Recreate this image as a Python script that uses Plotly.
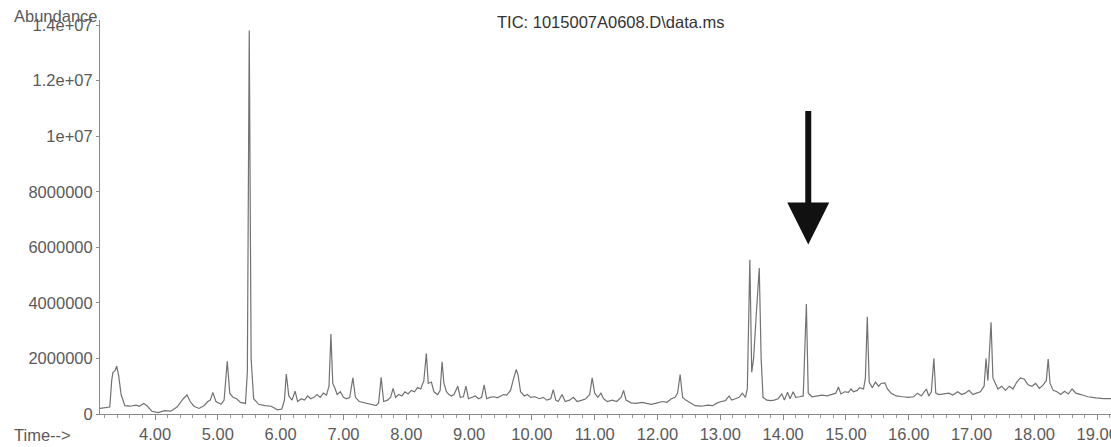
import plotly.graph_objects as go

# ---- data (retention time in minutes, abundance in millions of counts) ----
time_a = [3.12, 3.20, 3.28, 3.31, 3.33, 3.36, 3.39, 3.42, 3.46, 3.52, 3.60, 3.70, 3.75, 3.82, 3.87,
          3.95, 4.05, 4.15, 4.25, 4.35, 4.45, 4.51, 4.56, 4.62, 4.70, 4.78, 4.84, 4.88, 4.92, 4.97,
          5.05, 5.10, 5.15, 5.19, 5.24, 5.30, 5.36, 5.44, 5.47, 5.50, 5.53, 5.57, 5.65, 5.75, 5.85,
          5.95, 6.02, 6.06, 6.09, 6.13, 6.18, 6.23, 6.27, 6.33, 6.38, 6.43, 6.48, 6.53, 6.58, 6.63,
          6.68, 6.73, 6.77, 6.80, 6.83, 6.86, 6.90, 6.95, 7.00]
abund_a = [0.20, 0.22, 0.25, 1.20, 1.50, 1.55, 1.72, 1.40, 0.70, 0.30, 0.28, 0.32, 0.28, 0.38, 0.30,
           0.10, 0.05, 0.12, 0.10, 0.25, 0.55, 0.68, 0.45, 0.28, 0.20, 0.30, 0.45, 0.50, 0.78, 0.45,
           0.35, 0.50, 1.90, 0.75, 0.60, 0.55, 0.42, 0.38, 1.50, 13.80, 2.00, 0.55, 0.35, 0.30, 0.28,
           0.15, 0.18, 0.50, 1.44, 0.65, 0.50, 0.82, 0.45, 0.55, 0.50, 0.65, 0.55, 0.60, 0.70, 0.60,
           0.75, 0.68, 1.00, 2.88, 1.10, 0.95, 0.70, 0.80, 0.60]

time_b = [7.05, 7.10, 7.15, 7.19, 7.25, 7.35, 7.45, 7.52, 7.56, 7.60, 7.64, 7.70, 7.75, 7.79, 7.83,
          7.88, 7.93, 7.98, 8.03, 8.08, 8.13, 8.18, 8.23, 8.28, 8.32, 8.35, 8.40, 8.44, 8.50, 8.54,
          8.57, 8.60, 8.64, 8.68, 8.72, 8.76, 8.82, 8.86, 8.91, 8.95, 8.99, 9.05, 9.10, 9.15, 9.20,
          9.24, 9.28, 9.33, 9.40, 9.45, 9.50, 9.55, 9.60, 9.66, 9.70, 9.75, 9.78, 9.82, 9.88, 9.93,
          9.98, 10.05, 10.12, 10.18, 10.24, 10.30, 10.34, 10.38]
abund_b = [0.55, 0.60, 1.30, 0.60, 0.45, 0.40, 0.35, 0.30, 0.40, 1.32, 0.45, 0.50, 0.60, 0.92, 0.60,
           0.70, 0.65, 0.80, 0.72, 0.85, 0.80, 0.95, 0.90, 1.20, 2.18, 1.10, 1.15, 0.80, 0.70, 0.85,
           1.88, 1.10, 0.80, 0.70, 0.65, 0.70, 1.00, 0.60, 0.62, 1.00, 0.55, 0.60, 0.65, 0.55, 0.60,
           1.05, 0.55, 0.60, 0.62, 0.58, 0.65, 0.70, 0.68, 0.85, 1.20, 1.60, 1.40, 0.80, 0.65, 0.70,
           0.60, 0.62, 0.55, 0.60, 0.50, 0.55, 0.88, 0.50]

time_c = [10.42, 10.48, 10.53, 10.60, 10.66, 10.72, 10.80, 10.86, 10.92, 10.96, 11.00, 11.05, 11.10,
          11.14, 11.20, 11.28, 11.35, 11.42, 11.46, 11.50, 11.58, 11.66, 11.75, 11.82, 11.90, 12.00,
          12.08, 12.15, 12.22, 12.28, 12.32, 12.36, 12.40, 12.45, 12.52, 12.60, 12.70, 12.80, 12.88,
          12.95, 13.02, 13.08, 13.14, 13.18, 13.24, 13.30, 13.35, 13.40]
abund_c = [0.45, 0.70, 0.45, 0.50, 0.60, 0.45, 0.50, 0.55, 0.70, 1.30, 0.75, 0.60, 0.75,
           0.55, 0.45, 0.50, 0.45, 0.60, 0.85, 0.50, 0.40, 0.38, 0.42, 0.38, 0.35, 0.40,
           0.45, 0.42, 0.55, 0.60, 0.75, 1.42, 0.60, 0.50, 0.40, 0.30, 0.28, 0.32, 0.30,
           0.40, 0.45, 0.48, 0.65, 0.50, 0.55, 0.60, 0.75, 0.60]

time_d = [13.43, 13.47, 13.50, 13.53, 13.57, 13.62, 13.65, 13.68, 13.74, 13.80, 13.86, 13.92, 13.98,
          14.02, 14.07, 14.11, 14.16, 14.20, 14.26, 14.32, 14.37, 14.40, 14.46, 14.54, 14.62, 14.70,
          14.78, 14.84, 14.88, 14.92, 14.98, 15.04, 15.08, 15.12, 15.18, 15.22, 15.28, 15.31, 15.34,
          15.37, 15.42, 15.47, 15.52, 15.56, 15.62, 15.66, 15.72, 15.80, 15.90, 16.00]
abund_d = [0.90, 5.55, 1.50, 2.00, 3.50, 5.25, 2.00, 0.60, 0.50, 0.48, 0.50, 0.55, 0.72,
           0.50, 0.78, 0.55, 0.80, 0.60, 0.62, 0.65, 3.96, 0.75, 0.62, 0.65, 0.68, 0.65,
           0.70, 0.75, 0.97, 0.72, 0.80, 0.78, 0.90, 0.80, 0.85, 0.95, 0.90, 1.30, 3.50,
           1.15, 0.95, 1.15, 1.00, 1.10, 1.12, 0.90, 0.75, 0.65, 0.62, 0.60]

time_e = [16.08, 16.14, 16.20, 16.28, 16.32, 16.36, 16.40, 16.43, 16.48, 16.56, 16.64, 16.70, 16.78,
          16.84, 16.90, 16.96, 17.02, 17.08, 17.14, 17.20, 17.23, 17.26, 17.31, 17.34, 17.38, 17.42,
          17.48, 17.54, 17.60, 17.66, 17.72, 17.78, 17.84, 17.90, 17.96, 18.02, 18.08, 18.14, 18.19,
          18.22, 18.25, 18.30, 18.36, 18.42, 18.48, 18.54, 18.60, 18.66, 18.74, 18.85, 18.98, 19.10,
          19.25]
abund_e = [0.62, 0.75, 0.65, 0.90, 0.65, 0.80, 2.00, 0.75, 0.70, 0.72, 0.75, 0.68, 0.80,
           0.70, 0.75, 0.85, 0.70, 0.75, 0.80, 1.00, 2.00, 1.20, 3.30, 1.30, 1.10, 0.90,
           1.00, 0.85, 1.00, 0.90, 1.15, 1.30, 1.25, 1.05, 1.00, 1.10, 0.92, 1.05, 1.20,
           1.98, 1.10, 0.85, 0.80, 0.70, 0.82, 0.72, 0.90, 0.75, 0.70, 0.62, 0.58, 0.55,
           0.55]

x_tick_values = [4, 5, 6, 7, 8, 9, 10, 11, 12, 13, 14, 15, 16, 17, 18, 19]
x_tick_labels = ["4.00", "5.00", "6.00", "7.00", "8.00", "9.00", "10.00", "11.00", "12.00",
                 "13.00", "14.00", "15.00", "16.00", "17.00", "18.00", "19.00"]
y_tick_values = [0, 2, 4, 6, 8, 10, 12, 14]
y_tick_labels = ["0", "2000000", "4000000", "6000000", "8000000", "1e+07", "1.2e+07", "1.4e+07"]

title_text = "TIC: 1015007A0608.D\\data.ms"
arrow_time = 14.4
arrow_tip = 6.1

times = time_a + time_b + time_c + time_d + time_e
abundance = abund_a + abund_b + abund_c + abund_d + abund_e

FONT = "Liberation Sans, Arial, sans-serif"
GREY = "#5a5a5a"

fig = go.Figure()
fig.add_trace(go.Scatter(x=times, y=abundance, mode="lines",
                         line=dict(color="#727272", width=1.2), hoverinfo="skip"))

fig.update_layout(
    width=1111, height=447,
    margin=dict(l=100, r=0, t=20, b=33, autoexpand=False),
    paper_bgcolor="white", plot_bgcolor="white",
    showlegend=False,
    font=dict(family=FONT, color=GREY, size=16),
)
fig.update_xaxes(
    range=[3.124, 19.22], showgrid=False, zeroline=False, automargin=False,
    showline=True, linecolor="#8a8a8a", linewidth=1,
    tickvals=x_tick_values, ticktext=x_tick_labels,
    ticks="outside", ticklen=5, tickcolor="#8a8a8a",
    tickfont=dict(size=16.5, color=GREY),
    ticklabeloverflow="allow",
    minor=dict(dtick=0.2, tick0=0, ticks="outside", ticklen=3, tickcolor="#9a9a9a"),
)
fig.update_yaxes(
    range=[0, 14.18], showgrid=False, zeroline=False, automargin=False,
    showline=True, linecolor="#8a8a8a", linewidth=1,
    tickvals=y_tick_values, ticktext=y_tick_labels,
    ticks="outside", ticklen=3, tickcolor="#8a8a8a",
    tickfont=dict(size=16.5, color=GREY),
)

fig.add_annotation(text=title_text, xref="paper", yref="paper", x=0.505, y=1.0,
                   xanchor="center", yanchor="middle", yshift=-2, showarrow=False,
                   font=dict(size=16.5, color="#333333", family=FONT))
fig.add_annotation(text="Abundance", xref="paper", yref="paper", x=-0.087, y=1.0,
                   xanchor="left", yanchor="middle", yshift=4, showarrow=False,
                   font=dict(size=16.5, color=GREY, family=FONT))
fig.add_annotation(text="Time-->", xref="paper", yref="paper", x=-0.087, y=0,
                   xanchor="left", yanchor="middle", yshift=-21, showarrow=False,
                   font=dict(size=16.5, color=GREY, family=FONT))
fig.add_annotation(x=arrow_time, y=arrow_tip, xref="x", yref="y", text="",
                   showarrow=True, arrowhead=2, arrowwidth=6, arrowsize=1.4,
                   arrowcolor="#111111", ax=0, ay=-135)

fig.write_html("out.html")
